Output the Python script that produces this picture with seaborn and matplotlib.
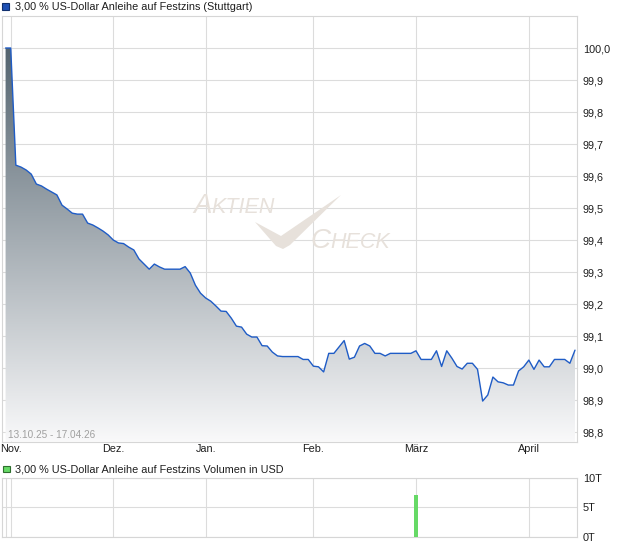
import numpy as np
import matplotlib
matplotlib.use('Agg')
import matplotlib.pyplot as plt
import seaborn as sns
from matplotlib.colors import LinearSegmentedColormap
from matplotlib.patches import Rectangle, Polygon
from matplotlib.ticker import FuncFormatter

# closing prices per trading day (31.10.25 .. 17.04.26)
prices = [
    100.000, 100.000, 99.634, 99.628, 99.619, 99.606, 99.575, 99.569, 99.559, 99.550,
    99.541, 99.509, 99.497, 99.484, 99.481, 99.481, 99.453, 99.447, 99.438, 99.428,
    99.416, 99.400, 99.391, 99.389, 99.378, 99.369, 99.341, 99.325, 99.309, 99.325,
    99.316, 99.309, 99.309, 99.309, 99.309, 99.317, 99.297, 99.259, 99.234, 99.219,
    99.209, 99.194, 99.178, 99.177, 99.156, 99.131, 99.128, 99.106, 99.097, 99.097,
    99.070, 99.069, 99.050, 99.038, 99.036, 99.036, 99.036, 99.036, 99.027, 99.027,
    99.006, 99.004, 98.988, 99.046, 99.046, 99.066, 99.086, 99.028, 99.034, 99.069,
    99.077, 99.069, 99.046, 99.046, 99.038, 99.046, 99.046, 99.046, 99.046, 99.046,
    99.054, 99.027, 99.027, 99.027, 99.054, 99.005, 99.054, 99.031, 99.005, 98.997,
    99.015, 99.015, 98.996, 98.897, 98.916, 98.972, 98.957, 98.954, 98.947, 98.947,
    98.991, 99.004, 99.025, 98.996, 99.025, 99.004, 99.004, 99.027, 99.027, 99.027,
    99.015, 99.056,
]
days = list(range(len(prices)))

month_pos = [1, 21, 39, 60, 80, 102]
month_labels = ['Nov.', 'Dez.', 'Jan.', 'Feb.', 'März', 'April']

vol_days = [80]
vol_usd = [7000]

price_ticks = [98.8, 98.9, 99.0, 99.1, 99.2, 99.3, 99.4, 99.5, 99.6, 99.7, 99.8, 99.9, 100.0]
vol_ticks = [0, 5000, 10000]
vol_tick_labels = ['0T', '5T', '10T']

title_price = '3,00 % US-Dollar Anleihe auf Festzins (Stuttgart)'
title_vol = '3,00 % US-Dollar Anleihe auf Festzins Volumen in USD'
range_text = '13.10.25 - 17.04.26'

sns.set_style('white')
plt.rcParams['font.family'] = ['Liberation Sans', 'DejaVu Sans']

W, H = 620, 546
fig = plt.figure(figsize=(W / 100, H / 100), dpi=100)
renderer = fig.canvas.get_renderer()


def box(x0, y0, x1, y1):
    # pixel box (top-left origin) -> figure fraction rect
    return [x0 / W, 1 - y1 / H, (x1 - x0) / W, (y1 - y0) / H]


ax = fig.add_axes(box(2.3, 16, 577.3, 441.7))
axv = fig.add_axes(box(2.3, 477.7, 577.3, 536.7))

xlim = (-0.64, 111.45)
ylim = (98.77, 100.1)
grid_col = '#dcdcdc'
txt_col = '#1e1e1e'
fs = 7.8

# gradient area under the price line
cmap = LinearSegmentedColormap.from_list('fill', ['#485965', '#f9f9fa'])
grad = np.linspace(0, 1, 256).reshape(-1, 1)
im = ax.imshow(grad, cmap=cmap, aspect='auto', origin='upper',
               extent=[xlim[0], xlim[1], ylim[0], ylim[1]], zorder=1,
               interpolation='bilinear')
area = ax.fill_between(days, prices, ylim[0], color='none', linewidth=0)
im.set_clip_path(area.get_paths()[0], transform=ax.transData)

sns.lineplot(x=days, y=prices, ax=ax, color='#1f5cc6', linewidth=1.0, zorder=3)

ax.set_xlim(xlim)
ax.set_ylim(ylim)
ax.set_xlabel('')
ax.set_ylabel('')
ax.set_axisbelow(True)
ax.grid(True, color=grid_col, linewidth=0.8)
ax.set_xticks(month_pos)
ax.set_xticklabels(month_labels)
ax.yaxis.tick_right()
ax.set_yticks(price_ticks)
ax.yaxis.set_major_formatter(FuncFormatter(lambda v, p: f'{v:.1f}'.replace('.', ',')))
ax.tick_params(axis='both', length=0, labelsize=fs, colors=txt_col)
ax.tick_params(axis='x', pad=2)
ax.tick_params(axis='y', pad=4)
for s in ax.spines.values():
    s.set_color('#d6d6d6')
    s.set_linewidth(0.8)

ax.text((8.3 - 2.3) / 575, (441.7 - 435) / 425.7, range_text, transform=ax.transAxes,
        fontsize=7.2, color='#a0a0a0', va='center', ha='left', zorder=4)

# watermark (small caps, pieces placed one after another)
wm = '#e7e1db'


def small_caps(x_px, base_px, big, rest):
    t = ax.text(x_px / W, 1 - base_px / H, big, transform=fig.transFigure, fontsize=20,
                style='italic', color=wm, zorder=2, va='baseline')
    x1 = t.get_window_extent(renderer).x1
    ax.text(x1 / W, 1 - base_px / H, rest, transform=fig.transFigure, fontsize=15.5,
            style='italic', color=wm, zorder=2, va='baseline')


small_caps(193, 213.5, 'A', 'KTIEN')
small_caps(310, 248.5, 'C', 'HECK')
check = [(255, 222), (281, 236), (341, 195), (290, 245), (283, 249), (276, 246)]
ax.add_patch(Polygon([(x / W, 1 - y / H) for x, y in check], closed=True,
                     transform=fig.transFigure, facecolor=wm, edgecolor='none', zorder=2))

# volume panel
sns.barplot(x=vol_days, y=vol_usd, ax=axv, native_scale=True, color='#66d966',
            saturation=1, width=0.6, linewidth=0, zorder=3)
axv.set_xlim(xlim)
axv.set_ylim(0, 10000)
axv.set_xlabel('')
axv.set_ylabel('')
axv.set_axisbelow(True)
axv.grid(True, color=grid_col, linewidth=0.8)
axv.set_xticks([0] + month_pos)
axv.yaxis.tick_right()
axv.set_yticks(vol_ticks)
axv.set_yticklabels(vol_tick_labels)
axv.tick_params(axis='both', length=0, labelsize=fs, colors=txt_col)
axv.tick_params(axis='x', labelbottom=False)
axv.tick_params(axis='y', pad=4)
for s in axv.spines.values():
    s.set_color('#d6d6d6')
    s.set_linewidth(0.8)

# legend-like headers
fig.text(15 / W, 1 - 7.3 / H, title_price, fontsize=fs, color=txt_col, va='center')
fig.add_artist(Rectangle((2 / W, 1 - 10 / H), 7 / W, 7 / H, transform=fig.transFigure,
                         facecolor='#1e50b4', edgecolor='#10306e', linewidth=0.8))
fig.text(15 / W, 1 - 469 / H, title_vol, fontsize=fs, color=txt_col, va='center')
fig.add_artist(Rectangle((3 / W, 1 - 472.3 / H), 6.5 / W, 6.5 / H, transform=fig.transFigure,
                         facecolor='#66d966', edgecolor='#2e6e2e', linewidth=0.8))

fig.savefig('out.png', dpi=100)
